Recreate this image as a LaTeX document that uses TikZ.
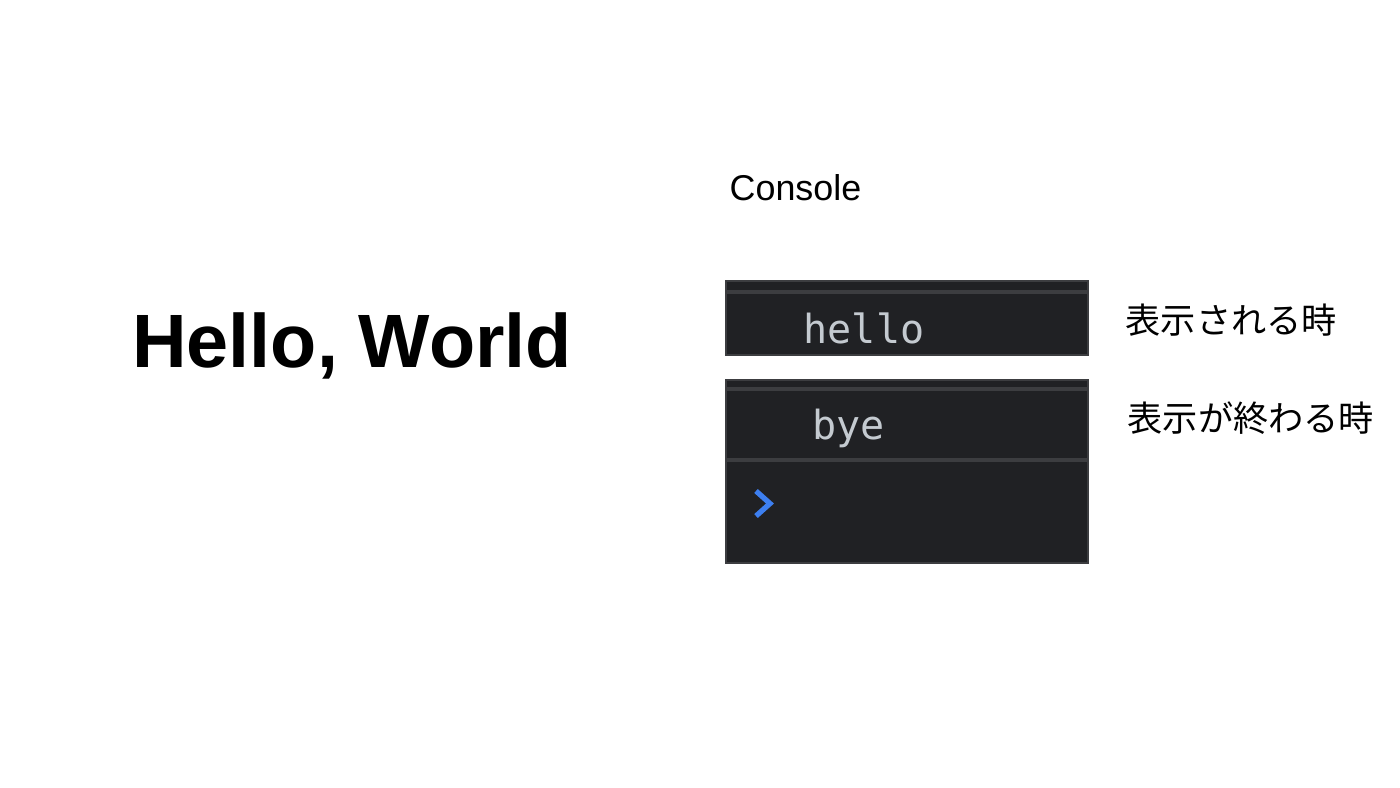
\documentclass[tikz,border=0pt]{standalone}
\usepackage{fontspec}
\setmainfont{Liberation Sans}
\newfontfamily\jpfont{Noto Sans CJK JP}
\newfontfamily\codefont{DejaVu Sans Mono}
\usetikzlibrary{positioning}

\definecolor{panelbg}{HTML}{202124}
\definecolor{panelline}{HTML}{3C3D40}
\definecolor{logtext}{HTML}{C4CAD0}
\definecolor{promptblue}{HTML}{3D7FF0}

\begin{document}
\begin{tikzpicture}[%
    x=0.01cm, y=-0.01cm,        % One unit is one pixel of the slide
    ]
% -------------------------------------------------
% A few styles
\tikzset{
  title/.style={inner sep=0pt, font={\fontsize{21.5}{26}\selectfont\bfseries}},
  label/.style={inner sep=0pt, anchor=west, font={\fontsize{10.2}{12}\selectfont}},
  note/.style={inner sep=0pt, anchor=west, font={\jpfont\fontsize{10}{12}\selectfont}},
  panel/.style={fill=panelbg, draw=panelline, line width=0.3pt},
  rule/.style={draw=panelline, line width=1.2pt},
  log/.style={inner sep=0pt, anchor=west, text=logtext, font={\codefont\fontsize{11.4}{13}\selectfont}},
}
\useasboundingbox (0,0) rectangle (1400,787);
% -------------------------------------------------
% Left side: the rendered page
\node [title] (hello) at (352,346) {Hello, World};
% -------------------------------------------------
% Right side: the console panels
\node [label] (console) at (729,188) {Console};
\path [panel] (726,281) rectangle (1088,355);
\path [rule] (726,292) -- (1088,292);
\node [log] (hellolog) at (803,328) {hello};
\path [panel] (726,380) rectangle (1088,563);
\path [rule] (726,389) -- (1088,389);
\path [rule] (726,460) -- (1088,460);
\node [log] (byelog) at (812,428) {bye};
% prompt chevron
\draw [promptblue, line width=1.5pt] (756,491) -- (770,503.5) -- (756,516);
% -------------------------------------------------
% Notes
\node [note] (shown) at (1125,320) {表示される時};
\node [note] (gone) at (1127,418) {表示が終わる時};
% -------------------------------------------------
\end{tikzpicture}
\end{document}
